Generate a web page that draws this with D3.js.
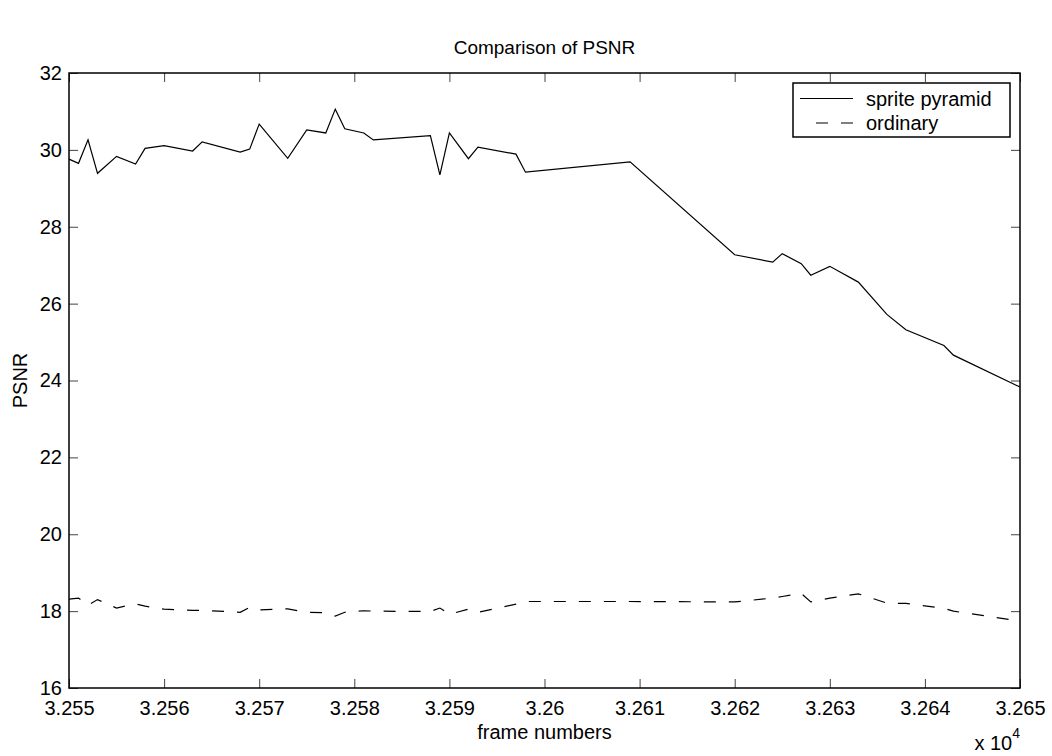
<!DOCTYPE html>
<html>
<head>
<meta charset="utf-8">
<script src="https://cdn.jsdelivr.net/npm/d3@7"></script>
<style>
    body { margin: 0; background: #fff; }
    svg text { font-family: "Liberation Sans", Arial, Helvetica, sans-serif; fill: #000; }
</style>
</head>
<body>
<div id="psnr-chart"></div>
<script>
    // -------------------------------------
    // Data
    // -------------------------------------

    var frames = [32550, 32551, 32552, 32553, 32555, 32557, 32558, 32560, 32563, 32564,
        32568, 32569, 32570, 32573, 32575, 32577, 32578, 32579, 32581, 32582,
        32588, 32589, 32590, 32592, 32593, 32597, 32598, 32609, 32620, 32624,
        32625, 32627, 32628, 32630, 32633, 32636, 32638, 32642, 32643, 32650]

    var spritePyramid = [29.76, 29.65, 30.26, 29.39, 29.83, 29.63, 30.04, 30.11, 29.97, 30.21,
        29.94, 30.02, 30.67, 29.78, 30.52, 30.44, 31.06, 30.55, 30.44, 30.26,
        30.37, 29.35, 30.44, 29.77, 30.07, 29.89, 29.42, 29.69, 27.27, 27.08,
        27.30, 27.04, 26.74, 26.97, 26.56, 25.72, 25.32, 24.91, 24.66, 23.83]

    var ordinary = [18.31, 18.34, 18.15, 18.30, 18.08, 18.19, 18.13, 18.05, 18.02, 18.02,
        17.97, 18.10, 18.03, 18.06, 17.97, 17.96, 17.87, 17.97, 18.01, 18.00,
        17.99, 18.08, 17.92, 18.05, 17.97, 18.18, 18.25, 18.25, 18.24, 18.34,
        18.38, 18.46, 18.24, 18.34, 18.45, 18.21, 18.20, 18.07, 18.00, 17.74]

    var xTicks = [32550, 32560, 32570, 32580, 32590, 32600, 32610, 32620, 32630, 32640, 32650]
    var yTicks = [16, 18, 20, 22, 24, 26, 28, 30, 32]

    var seriesNames = ['sprite pyramid', 'ordinary']

    // -------------------------------------
    // Frame and scales
    // -------------------------------------

    var margin = { top: 73, right: 32, bottom: 68, left: 69 }
    var width = 1052 - margin.left - margin.right
    var height = 756 - margin.top - margin.bottom

    var svg = d3.select('#psnr-chart')
        .append('svg')
        .attr('width', 1052)
        .attr('height', 756)

    var g = svg.append('g')
        .attr('transform', `translate(${margin.left},${margin.top})`)

    var x = d3.scaleLinear()
        .domain([32550, 32650])
        .range([0, width])

    var y = d3.scaleLinear()
        .domain([16, 32])
        .range([height, 0])

    var fmtX = d => String(+(d / 10000).toFixed(3))

    // inward ticks on all four sides, like the matlab box
    var tickLen = 9

    g.append('g')
        .attr('transform', `translate(0,${height})`)
        .call(d3.axisBottom(x).tickValues(xTicks).tickSize(-tickLen).tickPadding(13).tickFormat(fmtX))

    g.append('g')
        .call(d3.axisTop(x).tickValues(xTicks).tickSize(-tickLen).tickFormat(''))

    g.append('g')
        .call(d3.axisLeft(y).tickValues(yTicks).tickSize(-tickLen).tickPadding(7))

    g.append('g')
        .attr('transform', `translate(${width},0)`)
        .call(d3.axisRight(y).tickValues(yTicks).tickSize(-tickLen).tickFormat(''))

    g.selectAll('.domain').remove()
    g.selectAll('.tick line').attr('stroke', '#444').attr('stroke-width', 1)
    g.selectAll('.tick text').attr('font-size', 20).attr('fill', '#000')
        .attr('font-family', '"Liberation Sans", Arial, sans-serif')

    // box around the axes
    g.append('rect')
        .attr('x', 0)
        .attr('y', 0)
        .attr('width', width)
        .attr('height', height)
        .attr('fill', 'none')
        .attr('stroke', '#000')
        .attr('stroke-width', 1.5)

    // -------------------------------------
    // Lines
    // -------------------------------------

    var line = d3.line()
        .x(d => x(d[0]))
        .y(d => y(d[1]))

    g.append('path')
        .datum(d3.zip(frames, spritePyramid))
        .attr('fill', 'none')
        .attr('stroke', '#000')
        .attr('stroke-width', 1.2)
        .attr('d', line)

    g.append('path')
        .datum(d3.zip(frames, ordinary))
        .attr('fill', 'none')
        .attr('stroke', '#000')
        .attr('stroke-width', 1.2)
        .attr('stroke-dasharray', '12,13')
        .attr('d', line)

    // -------------------------------------
    // Legend
    // -------------------------------------

    var legend = svg.append('g').attr('transform', 'translate(793,83)')

    legend.append('rect')
        .attr('width', 217)
        .attr('height', 54)
        .attr('fill', '#fff')
        .attr('stroke', '#000')
        .attr('stroke-width', 1.5)

    seriesNames.forEach(function (name, i) {
        var ly = 15.5 + i * 24.5
        legend.append('line')
            .attr('x1', 60)
            .attr('x2', i == 1 ? 23 : 7)
            .attr('y1', ly)
            .attr('y2', ly)
            .attr('stroke', '#000')
            .attr('stroke-width', 1.2)
            .attr('stroke-dasharray', i == 1 ? '12,13' : null)
        legend.append('text')
            .attr('x', 73)
            .attr('y', ly + 7)
            .attr('font-size', 20)
            .text(name)
    })

    // -------------------------------------
    // Titles
    // -------------------------------------

    svg.append('text')
        .attr('x', margin.left + width / 2)
        .attr('y', 54)
        .attr('text-anchor', 'middle')
        .attr('font-size', 19)
        .text('Comparison of PSNR')

    svg.append('text')
        .attr('x', margin.left + width / 2)
        .attr('y', 739)
        .attr('text-anchor', 'middle')
        .attr('font-size', 20)
        .text('frame numbers')

    svg.append('text')
        .attr('transform', `translate(27,${margin.top + height / 2}) rotate(-90)`)
        .attr('text-anchor', 'middle')
        .attr('font-size', 20)
        .text('PSNR')

    var expo = svg.append('text')
        .attr('x', 1020)
        .attr('y', 750)
        .attr('text-anchor', 'end')
        .attr('font-size', 20)
    expo.append('tspan').text('x 10')
    expo.append('tspan').attr('dy', -12).attr('font-size', 14).text('4')
</script>
</body>
</html>
